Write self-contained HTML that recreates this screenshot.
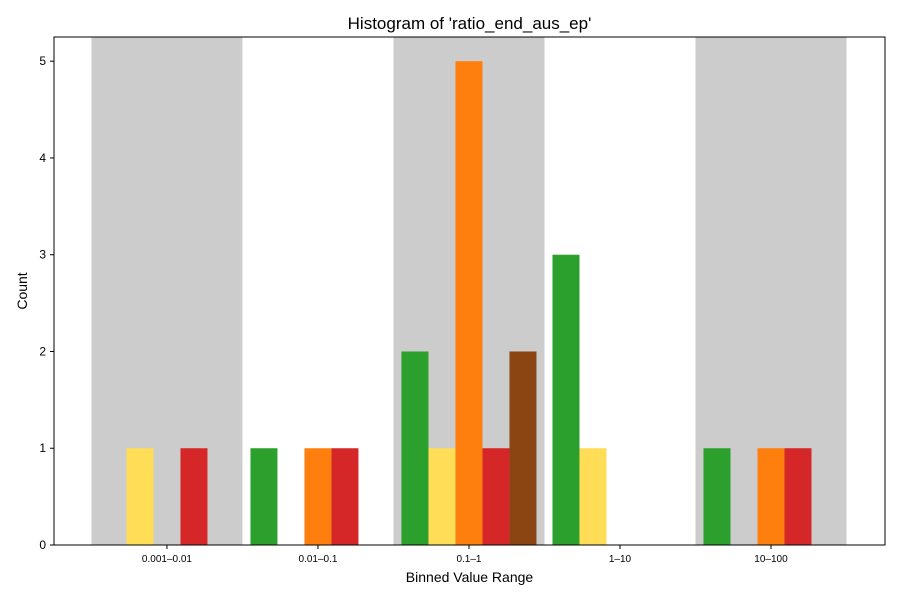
<!DOCTYPE html>
<html><head><meta charset="utf-8"><style>
html,body{margin:0;padding:0;background:#fff}
svg text{font-family:"Liberation Sans","DejaVu Sans",sans-serif;fill:#000}
</style></head><body>
<svg id="chart" width="900" height="600"></svg>
<script>
const categories = ["0.001–0.01","0.01–0.1","0.1–1","1–10","10–100"];
const seriesGreen  = [0,1,2,3,1];
const seriesYellow = [1,0,1,1,0];
const seriesOrange = [0,1,5,0,1];
const seriesRed    = [1,1,1,0,1];
const seriesBrown  = [0,0,2,0,0];
const yTicks = [0,1,2,3,4,5];
const seriesList = [
  {name:"green", values:seriesGreen, color:"#2ca02c"},
  {name:"yellow", values:seriesYellow, color:"#ffdd57"},
  {name:"orange", values:seriesOrange, color:"#ff7f0e"},
  {name:"red", values:seriesRed, color:"#d62728"},
  {name:"brown", values:seriesBrown, color:"#8b4513"}
];
const NS="http://www.w3.org/2000/svg";
const svg=document.getElementById('chart');
const L=54,R=885,T=37,B=545;
const xMin=-0.748,xMax=4.755,yMax=5.25;
const xs=v=>L+(v-xMin)/(xMax-xMin)*(R-L);
const ys=v=>B-v/yMax*(B-T);
const unit=xs(1)-xs(0);
const barW=unit*27/151;
function mk(tag,attrs,parent){const e=document.createElementNS(NS,tag);for(const k in attrs)e.setAttribute(k,attrs[k]);(parent||svg).appendChild(e);return e;}
// gray bands
categories.forEach((c,i)=>{
  if(i%2===0){
    const r=mk('rect',{x:xs(i-0.5),y:T,width:unit,height:B-T,fill:'#cccccc'});
    
    
  }
});
// bars
seriesList.forEach((s,si)=>{
  s.values.forEach((v,i)=>{
    if(v<=0)return;
    const x=xs(i)+(si-2.5)*barW;
    const r=mk('rect',{x:x,y:ys(v),width:barW,height:ys(0)-ys(v),fill:s.color});
    
    
  });
});
// frame
const f=mk('rect',{x:L,y:T,width:R-L,height:B-T,fill:'none',stroke:'#000','stroke-width':1});


// y ticks
yTicks.forEach(t=>{
  const y=ys(t);
  mk('line',{x1:L-4,x2:L,y1:y,y2:y,stroke:'#000'});
  const tx=mk('text',{x:L-8,y:y+4,'text-anchor':'end','font-size':12});
  tx.textContent=t;
  
  
});
// x ticks
categories.forEach((c,i)=>{
  const x=xs(i);
  mk('line',{x1:x,x2:x,y1:B,y2:B+4,stroke:'#000'});
  const tx=mk('text',{x:x,y:B+17,'text-anchor':'middle','font-size':10});
  tx.textContent=c;
  
  
});
const title=mk('text',{x:(L+R)/2,y:29,'text-anchor':'middle','font-size':17});
title.textContent="Histogram of 'ratio_end_aus_ep'";


const xt=mk('text',{x:(L+R)/2,y:582,'text-anchor':'middle','font-size':14});
xt.textContent="Binned Value Range";


const yt=mk('text',{x:0,y:0,'text-anchor':'middle','font-size':14,transform:'translate(27,'+((T+B)/2)+') rotate(-90)'});
yt.textContent="Count";


</script>
</body></html>
